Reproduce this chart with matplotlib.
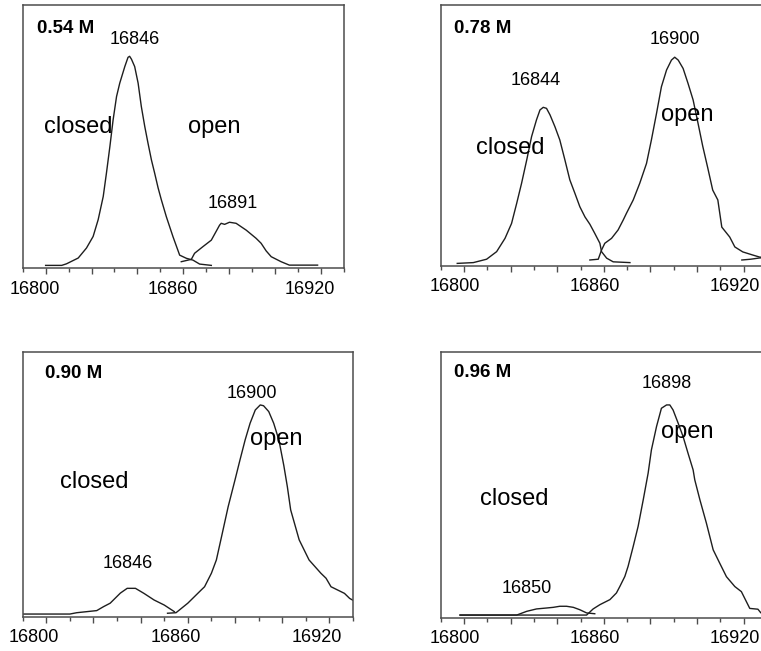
import matplotlib.pyplot as plt
import matplotlib.transforms as mtransforms
from matplotlib.ticker import MultipleLocator

plt.rcParams["font.family"] = ["Liberation Sans", "DejaVu Sans"]

# ---- data ----
# 0.54 M
p1_closed_x = [16800.0, 16807.0, 16809.1, 16814.2, 16817.8, 16820.7, 16822.9, 16825.1, 16826.5,
               16828.0, 16829.4, 16830.9, 16832.3, 16834.5, 16835.9, 16836.6, 16837.4, 16838.8,
               16840.3, 16841.7, 16843.2, 16844.6, 16846.1, 16847.5, 16849.0, 16850.4, 16852.6,
               16855.5, 16858.4, 16861.3, 16864.2, 16867.1, 16872.2]
p1_closed_y = [1.0, 1.0, 1.6, 3.8, 7.6, 12.0, 18.4, 27.2, 36.1,
               46.2, 56.3, 65.2, 70.3, 76.6, 80.1, 80.5, 79.4, 76.6,
               70.3, 61.4, 53.8, 47.5, 41.1, 36.1, 30.5, 26.0, 19.5,
               11.9, 4.9, 3.7, 3.0, 1.5, 1.0]
p1_open_x = [16859.1, 16863.5, 16864.9, 16868.5, 16872.2, 16875.8, 16876.5, 16878.0, 16880.1,
             16883.0, 16887.4, 16891.7, 16893.9, 16896.1, 16898.3, 16902.6, 16906.2, 16918.5]
p1_open_y = [2.4, 3.3, 5.6, 8.1, 10.6, 16.3, 17.0, 16.6, 17.4,
             17.0, 14.4, 11.3, 9.4, 6.5, 4.3, 2.4, 1.1, 1.1]

# 0.78 M
p2_closed_x = [16797.1, 16804.0, 16809.7, 16814.0, 16817.6, 16820.4, 16822.6, 16824.7, 16826.9,
               16829.0, 16831.1, 16832.6, 16834.0, 16835.4, 16836.9, 16839.0, 16841.1, 16843.3,
               16845.4, 16847.6, 16849.7, 16851.9, 16854.0, 16856.1, 16858.3, 16859.0, 16861.2,
               16864.0, 16871.2]
p2_closed_y = [1.0, 1.3, 2.6, 5.5, 10.6, 16.3, 24.0, 31.7, 40.6,
               49.6, 56.0, 59.8, 60.8, 60.4, 57.9, 53.4, 48.3, 40.6,
               33.0, 27.8, 22.7, 18.8, 16.0, 12.5, 8.7, 5.5, 3.0,
               1.6, 1.3]
p2_open_x = [16854.0, 16857.6, 16859.0, 16860.4, 16863.3, 16866.1, 16868.3, 16869.7, 16872.6,
             16875.4, 16878.3, 16880.4, 16882.6, 16884.7, 16886.9, 16889.0, 16890.4, 16891.9,
             16894.0, 16896.1, 16898.3, 16900.4, 16902.4, 16904.6, 16906.7, 16908.9, 16910.6,
             16914.0, 16916.2, 16919.6, 16923.9, 16926.9, 16930.0]
p2_open_y = [2.3, 2.6, 6.1, 8.7, 10.6, 13.8, 17.6, 20.2, 25.3,
             31.7, 39.3, 48.3, 58.5, 68.7, 75.1, 78.9, 80.0, 78.9,
             75.7, 70.0, 63.6, 54.7, 46.0, 37.5, 29.1, 25.3, 14.9,
             11.1, 7.3, 5.4, 4.2, 3.4, 3.3]
p2_stub_x = [16919.2, 16923.0, 16927.0, 16930.0]
p2_stub_y = [2.3, 2.6, 3.1, 3.1]

# 0.90 M
p3_closed_x = [16790.0, 16810.0, 16812.9, 16821.4, 16824.3, 16827.1, 16831.4, 16834.3, 16837.8,
               16841.4, 16845.7, 16850.0, 16854.3]
p3_closed_y = [1.0, 1.0, 1.5, 2.3, 3.8, 5.1, 8.9, 10.7, 10.7,
               8.8, 6.3, 4.4, 1.9]
p3_open_x = [16851.4, 16855.0, 16860.0, 16865.7, 16867.1, 16870.0, 16872.1, 16874.3, 16877.1,
             16880.0, 16882.1, 16884.3, 16886.4, 16888.6, 16890.7, 16892.1, 16894.3, 16896.4,
             16898.6, 16900.7, 16902.2, 16903.6, 16907.2, 16911.4, 16916.4, 16918.6, 16920.7,
             16926.4, 16928.6, 16931.0]
p3_open_y = [1.3, 1.5, 5.1, 10.1, 11.3, 16.4, 21.4, 30.2, 41.5,
             51.6, 59.1, 66.7, 73.0, 78.0, 79.9, 79.6, 77.4, 73.0,
             66.7, 57.0, 49.0, 40.3, 29.0, 21.4, 16.4, 14.5, 11.3,
             8.8, 6.9, 5.7]

# 0.96 M
p4_closed_x = [16798.3, 16822.6, 16826.9, 16831.1, 16835.4, 16838.3, 16841.1, 16844.0, 16846.9,
               16849.7, 16852.6, 16856.1]
p4_closed_y = [1.1, 1.1, 2.5, 3.4, 3.75, 4.0, 4.4, 4.4, 4.0,
               3.1, 1.9, 1.6]
p4_open_x = [16798.3, 16852.6, 16855.4, 16858.3, 16862.6, 16865.4, 16866.9, 16869.0, 16870.4,
             16872.6, 16874.7, 16876.9, 16879.0, 16880.4, 16882.6, 16884.7, 16886.9, 16888.3,
             16889.7, 16891.9, 16894.0, 16896.1, 16898.3, 16899.0, 16901.2, 16904.0, 16906.9,
             16909.7, 16912.6, 16916.2, 16919.0, 16922.6, 16926.1, 16927.3]
p4_open_y = [1.1, 1.1, 3.4, 5.0, 6.9, 9.4, 11.9, 15.6, 19.4,
             26.9, 34.4, 44.4, 54.4, 63.1, 71.9, 78.75, 80.0, 80.0,
             78.1, 73.1, 68.1, 61.9, 55.6, 51.9, 44.4, 35.6, 25.6,
             20.6, 15.5, 11.8, 9.9, 3.6, 3.3, 2.0]

conc_labels = ["0.54 M", "0.78 M", "0.90 M", "0.96 M"]
closed_peaks = ["16846", "16844", "16846", "16850"]
open_peaks = ["16891", "16900", "16900", "16898"]

# longer ticks every 20, only three of them labelled
major_ticks = [16800, 16820, 16840, 16860, 16880, 16900, 16920]
major_labels = ["16800", "", "", "16860", "", "", "16920"]

# ---- layout ----
W, H = 761, 651
fig = plt.figure(figsize=(W / 100, H / 100), dpi=100)

# axes rects in figure fraction (right column runs past the figure edge)
rects = [
    [0.0298, 0.5883, 0.4222, 0.4040],
    [0.5791, 0.5914, 0.4288, 0.4009],
    [0.0298, 0.0527, 0.4340, 0.4071],
    [0.5791, 0.0507, 0.4288, 0.4091],
]
# tick label shift (px) - labels sit left of the ticks in the original
label_shift = [-11, -9, -12.5, -9]

# text positions (data coords): conc, closed peak no., open peak no., "closed", "open"
text_pos = [
    [(16796.1, 91.1), (16838.8, 87.0), (16881.6, 24.6), (16799.4, 53.7), (16862.0, 53.7)],
    [(16795.7, 91.1), (16830.9, 70.9), (16890.4, 86.6), (16805.1, 45.1), (16884.4, 57.9)],
    [(16799.3, 91.8), (16834.7, 19.9), (16887.1, 84.3), (16805.7, 50.9), (16886.4, 66.9)],
    [(16795.7, 92.2), (16827.1, 11.2), (16887.1, 88.0), (16806.9, 44.6), (16884.4, 70.0)],
]

curves = [
    [(p1_closed_x, p1_closed_y), (p1_open_x, p1_open_y)],
    [(p2_closed_x, p2_closed_y), (p2_open_x, p2_open_y), (p2_stub_x, p2_stub_y)],
    [(p3_closed_x, p3_closed_y), (p3_open_x, p3_open_y)],
    [(p4_closed_x, p4_closed_y), (p4_open_x, p4_open_y)],
]

spine_col = "#4d4d4d"
line_col = "#1e1e1e"

for i in range(4):
    ax = fig.add_axes(rects[i])
    for xs, ys in curves[i]:
        ax.plot(xs, ys, color=line_col, lw=1.0)

    ax.set_xlim(16790, 16930)
    ax.set_ylim(0, 100)
    ax.set_yticks([])

    ax.set_xticks(major_ticks)
    ax.set_xticklabels(major_labels)
    ax.xaxis.set_minor_locator(MultipleLocator(10))
    ax.tick_params(axis="x", which="major", direction="out", length=4,
                   width=1.0, color=spine_col, labelsize=13, pad=5)
    ax.tick_params(axis="x", which="minor", direction="out", length=2.8,
                   width=1.0, color=spine_col)
    for s in ax.spines.values():
        s.set_color(spine_col)
        s.set_linewidth(1.1)

    offset = mtransforms.ScaledTranslation(label_shift[i] / 100, 0, fig.dpi_scale_trans)
    for lab in ax.xaxis.get_majorticklabels():
        lab.set_transform(lab.get_transform() + offset)

    tp = text_pos[i]
    ax.text(tp[0][0], tp[0][1], conc_labels[i], fontsize=13.5, fontweight="bold",
            ha="left", va="center")
    ax.text(tp[1][0], tp[1][1], closed_peaks[i], fontsize=13, ha="center", va="center")
    ax.text(tp[2][0], tp[2][1], open_peaks[i], fontsize=13, ha="center", va="center")
    ax.text(tp[3][0], tp[3][1], "closed", fontsize=17, ha="left", va="center")
    ax.text(tp[4][0], tp[4][1], "open", fontsize=17, ha="left", va="center")

fig.savefig("out.png", dpi=100)
